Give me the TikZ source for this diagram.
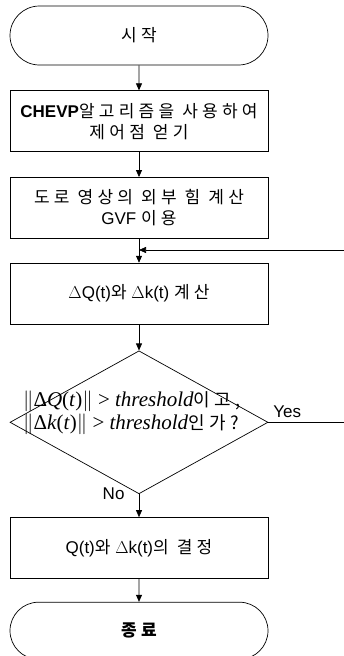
\documentclass[tikz,border=0pt]{standalone}
\usepackage{amsmath}
\usepackage{fontspec}
\setmainfont{Liberation Sans}
\newfontfamily\kr[LetterSpace=25]{Noto Sans CJK KR}
\newfontfamily\serif{Liberation Serif}
\usetikzlibrary{positioning,shapes.geometric,shapes.misc,arrows.meta}

\begin{document}
\begin{tikzpicture}[
  x=1pt, y=1pt,
  every node/.style={font=\fontsize{17}{21}\selectfont},
  term/.style={rounded rectangle, draw, line width=0.7pt, minimum width=258pt, minimum height=59pt, inner sep=0pt},
  proc/.style={rectangle, draw, line width=0.7pt, minimum width=258pt, minimum height=61pt, align=center},
  decide/.style={diamond, draw, line width=0.7pt, minimum width=258pt, minimum height=143pt, inner sep=0pt},
  flow/.style={-{Triangle[length=7pt,width=6pt]}, line width=0.7pt}
]
  \useasboundingbox (0,0) rectangle (344,-656);

  \node[term] (start) at (139,-35.5) {\kr 시작};
  \node[proc, below=25pt of start] (ctrl) {\textbf{CHEVP}{\kr 알고리즘을 사용하여}\\{\kr 제어점 얻기}};
  \node[proc, below=25pt of ctrl] (gvf) {{\kr 도로 영상의 외부 힘 계산}\\GVF {\kr 이용}};
  \node[proc, below=24pt of gvf] (calc) {$\Delta$Q(t){\kr 와} $\Delta$k(t) {\kr 계산}};
  \node[decide, below=26pt of calc] (dec) {};
  \node[align=left, font=\fontsize{21}{23}\selectfont\serif, xshift=-7pt, yshift=9pt] (cond) at (dec.center) {%
    $\lVert$Δ\textit{Q}(\textit{t})$\rVert$ > \textit{threshold}{\kr\fontsize{18}{23}\selectfont 이고,}\\
    $\lVert$Δ\textit{k}(\textit{t})$\rVert$ > \textit{threshold}{\kr\fontsize{18}{23}\selectfont 인가?}};
  \node[proc, below=23pt of dec] (fix) {Q(t){\kr 와} $\Delta$k(t){\kr 의 결정}};
  \node[term, minimum height=57pt, below=23pt of fix] (stop) {\kr\bfseries 종료};

  % loop back from the right edge
  \coordinate (back) at (344,-250);
  \coordinate (out) at (dec.east -| back);

  \draw[flow] (start) -- (ctrl);
  \draw[flow] (ctrl) -- (gvf);
  \draw[flow] (gvf) -- (calc);
  \draw[flow] (back) -- (back -| calc.north);
  \draw[flow] (calc) -- (dec);
  \draw[line width=0.7pt] (dec.east) -- node[pos=0.25, above=1pt] (yes) {Yes} (out);
  \node[left=11pt of dec.south] (no) {No};
  \draw[flow] (dec.south) -- (fix);
  \draw[flow] (fix) -- (stop);
\end{tikzpicture}
\end{document}
